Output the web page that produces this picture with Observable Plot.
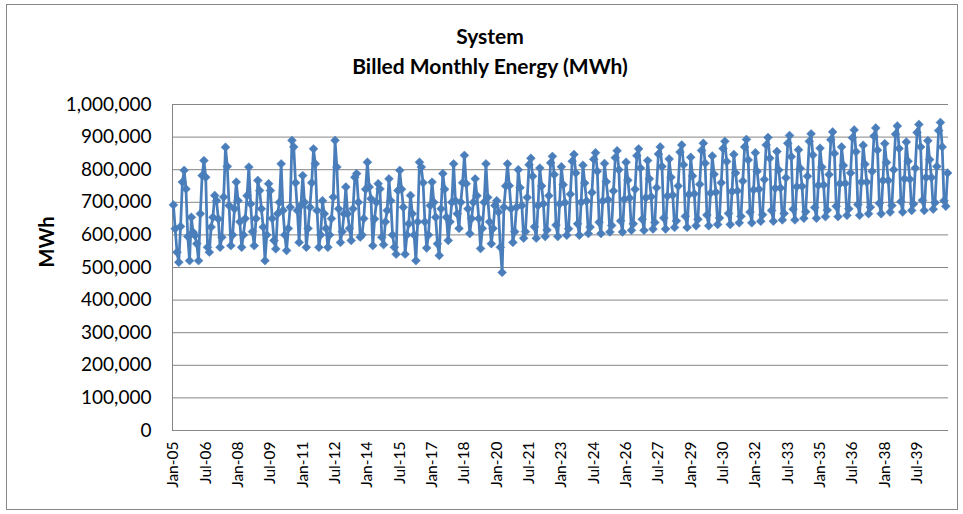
<!DOCTYPE html>
<html><head><meta charset="utf-8">
<script src="https://cdn.jsdelivr.net/npm/d3@7"></script>
<script src="https://cdn.jsdelivr.net/npm/@observablehq/plot@0.6"></script>
<style>
body{margin:0;background:#fff;font-family:Lato,"Open Sans",sans-serif;}
#wrap{position:relative;width:963px;height:514px;overflow:hidden;background:#fff;}
#frame{position:absolute;left:6px;top:4px;width:952px;height:506px;border:1px solid #868686;box-sizing:border-box;}
.title{position:absolute;left:0;width:980px;text-align:center;font-weight:bold;font-size:21px;color:#000;line-height:24px;}
#chart{position:absolute;left:0;top:0;}
</style></head><body>
<div id="wrap"><div id="frame"></div>
<div class="title" style="top:24px">System</div>
<div class="title" style="top:54px">Billed Monthly Energy (MWh)</div>
<div id="chart"></div></div>
<script>
// Billed monthly energy (MWh), Jan 2005 – Dec 2040
const energy2005to2010 = [
 692000,619000,547000,516000,626000,762000,798000,741000,595000,521000,654000,608000,
 598000,573000,521000,665000,782000,828000,777000,562000,547000,624000,654000,721000,
 705000,649000,562000,593000,716000,869000,810000,690000,567000,600000,680000,762000,
 705000,640000,562000,600000,650000,720000,808000,695000,610000,567000,650000,767000,
 736000,680000,624000,521000,600000,757000,736000,650000,583000,557000,665000,700000,
 818000,675000,600000,552000,620000,685000,890000,870000,760000,675000,577000,690000];
const energy2011to2016 = [
 782000,700000,562000,620000,685000,760000,864000,818000,675000,562000,600000,705000,
 665000,620000,562000,600000,650000,716000,890000,808000,680000,577000,610000,665000,
 747000,665000,620000,583000,680000,777000,788000,700000,593000,600000,650000,740000,
 823000,747000,711000,567000,649000,700000,757000,741000,593000,570000,640000,675000,
 772000,705000,600000,562000,541000,736000,798000,740000,685000,541000,600000,634000,
 721000,665000,600000,521000,640000,823000,808000,760000,640000,560000,600000,690000];
const energy2017to2022 = [
 762000,700000,654000,573000,537000,680000,788000,740000,654000,583000,640000,700000,
 818000,705000,665000,620000,700000,760000,844000,757000,680000,604000,650000,700000,
 772000,720000,650000,558000,620000,700000,818000,715000,640000,573000,620000,690000,
 705000,670000,562000,485000,685000,750000,818000,751000,680000,577000,610000,685000,
 800000,745000,690000,590000,610000,715000,815000,835000,780000,625000,590000,690000,
 805000,750000,695000,595000,615000,720000,821000,841000,785000,630000,595000,695000];
const energy2023to2028 = [
 809000,754000,699000,599000,619000,725000,826000,847000,790000,634000,599000,700000,
 814000,759000,704000,604000,624000,730000,832000,852000,795000,639000,604000,704000,
 819000,763000,708000,609000,629000,735000,837000,858000,800000,643000,609000,709000,
 823000,768000,713000,614000,634000,740000,843000,864000,805000,648000,614000,714000,
 828000,772000,717000,618000,638000,745000,848000,870000,810000,652000,618000,719000,
 833000,777000,722000,623000,643000,750000,854000,876000,815000,657000,623000,724000];
const energy2029to2034 = [
 838000,781000,726000,628000,648000,755000,859000,881000,820000,661000,628000,728000,
 842000,786000,731000,632000,652000,760000,865000,887000,825000,666000,632000,733000,
 847000,790000,735000,637000,657000,765000,870000,893000,830000,670000,637000,738000,
 852000,795000,740000,642000,662000,770000,876000,899000,835000,675000,642000,743000,
 856000,799000,744000,646000,666000,775000,881000,905000,840000,679000,646000,748000,
 861000,804000,749000,651000,671000,780000,887000,910000,845000,684000,651000,752000];
const energy2035to2040 = [
 866000,808000,753000,656000,676000,785000,892000,916000,850000,688000,656000,757000,
 870000,813000,758000,660000,680000,790000,898000,922000,855000,693000,660000,762000,
 875000,817000,762000,665000,685000,795000,903000,928000,860000,697000,665000,767000,
 880000,822000,767000,670000,690000,800000,909000,934000,865000,702000,670000,772000,
 885000,826000,771000,675000,695000,805000,914000,939000,870000,706000,675000,776000,
 889000,831000,776000,679000,699000,810000,920000,945000,870000,705000,688000,790000];

const tickLabels = ["Jan-05","Jul-06","Jan-08","Jul-09","Jan-11","Jul-12","Jan-14","Jul-15",
 "Jan-17","Jul-18","Jan-20","Jul-21","Jan-23","Jul-24","Jan-26","Jul-27","Jan-29","Jul-30",
 "Jan-32","Jul-33","Jan-35","Jul-36","Jan-38","Jul-39"];
const yTicks = [0,100000,200000,300000,400000,500000,600000,700000,800000,900000,1000000];

const monthLabels = d3.utcMonths(new Date(Date.UTC(2005,0,1)), new Date(Date.UTC(2041,0,1)))
  .map(d3.utcFormat("%b-%y"));
const values = [...energy2005to2010, ...energy2011to2016, ...energy2017to2022,
  ...energy2023to2028, ...energy2029to2034, ...energy2035to2040];
const data = monthLabels.map((m, i) => ({month: m, mwh: values[i]}));

const blue = "#4A7EBB";
const grid = "#868686";

const leftAxisLine = (index, scales, vals, dims) => {
  const l = document.createElementNS("http://www.w3.org/2000/svg", "line");
  l.setAttribute("x1", dims.marginLeft + 0.5);
  l.setAttribute("x2", dims.marginLeft + 0.5);
  l.setAttribute("y1", dims.marginTop);
  l.setAttribute("y2", dims.height - dims.marginBottom);
  l.setAttribute("stroke", grid);
  l.setAttribute("stroke-width", 1);
  return l;
};

const chart = Plot.plot({
  width: 963, height: 514,
  marginLeft: 172, marginRight: 15, marginTop: 104, marginBottom: 84,
  style: {fontFamily: "Lato, 'Open Sans', sans-serif", background: "transparent", color: "#000"},
  x: {type: "point", domain: monthLabels, padding: 0.5, label: null},
  y: {domain: [0, 1000000], label: null},
  marks: [
    Plot.gridY(yTicks, {stroke: grid, strokeOpacity: 1, strokeWidth: 1}),
    leftAxisLine,
    Plot.axisY({ticks: yTicks, tickSize: 0, tickPadding: 21, tickFormat: d3.format(","), fontSize: 19, label: null}),
    Plot.axisX({ticks: tickLabels, tickSize: 0, tickPadding: 11, tickRotate: -90, fontSize: 15.5, label: null}),
    Plot.text(["MWh"], {frameAnchor: "left", dx: -125, rotate: -90, fontSize: 20, fontWeight: "bold"}),
    Plot.line(data, {x: "month", y: "mwh", stroke: blue, strokeWidth: 2.75}),
    Plot.dot(data, {x: "month", y: "mwh", symbol: "diamond2", r: 4, fill: blue, stroke: blue, strokeWidth: 0.5})
  ]
});
document.getElementById("chart").appendChild(chart);
</script>
</body></html>
